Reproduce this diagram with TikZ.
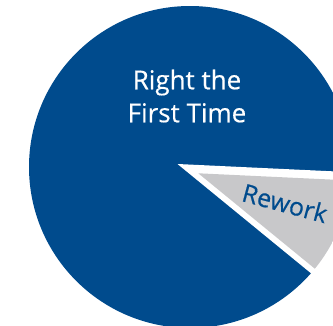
\documentclass[tikz,border=0pt]{standalone}
\usepackage{fontspec}
\setmainfont[FakeBold=0.4]{Open Sans}
\usetikzlibrary{positioning}
\definecolor{pieblue}{RGB}{0,75,141}
\definecolor{piegray}{RGB}{200,200,202}

\begin{document}
\begin{tikzpicture}[x=1pt,y=1pt]
\tikzstyle{every node}=[inner sep=0pt]
\tikzset{font=\fontsize{26pt}{33pt}\selectfont}

  \useasboundingbox (0,0) rectangle (333,325);
  \coordinate (c) at (190,158);
  \coordinate (a) at (177.5,161);
  \coordinate (g) at (198.3,151.7);

  % whole pie
  \fill[pieblue] (c) circle (161);
  % cut for the small slice
  \fill[white] (a) -- +(-2.7:250) -- +(-39.3:250) -- cycle;
  \begin{scope}
    \clip (c) circle (161);
    \fill[piegray] (g) -- +(-2.7:250) -- +(-39.3:250) -- cycle;
  \end{scope}

  \node[text=white, align=center] (rft) at (187,229) {Right the\\First Time};
  \node[text=pieblue, rotate=-15, font=\fontsize{25pt}{25pt}\selectfont] (rw) at (285,122) {Rework};

\end{tikzpicture}
\end{document}
